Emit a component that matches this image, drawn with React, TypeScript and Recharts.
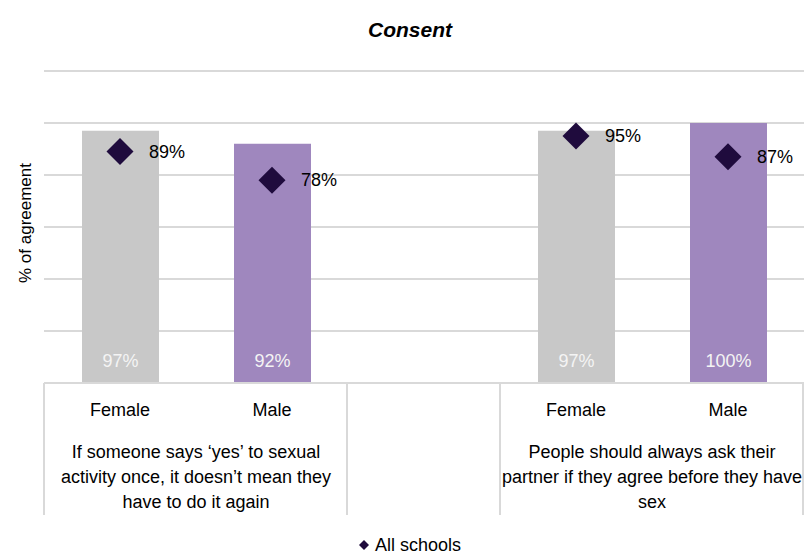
import React from "react";
import { Bar, Cell, ComposedChart, CartesianGrid, LabelList, Scatter, XAxis, YAxis } from "recharts";

const categories = ["f1", "m1", "gap", "f2", "m2"];
const sexLabels = ["Female", "Male", "", "Female", "Male"];
const groupShare = [97, 92, null, 97, 100];
const allSchoolsShare = [89, 78, null, 95, 87];
const barColors = ["#c8c8c8", "#9f87be", "transparent", "#c8c8c8", "#9f87be"];
const statementLines = [
  ["If someone says ‘yes’ to sexual", "activity once, it doesn’t mean they", "have to do it again"],
  ["People should always ask their", "partner if they agree before they have", "sex"],
];
const statementStart = [0, 3];
const yTicks = [0, 20, 40, 60, 80, 100, 120];

const data = categories.map((key, i) => ({
  key,
  sex: sexLabels[i],
  share: groupShare[i],
  allSchools: allSchoolsShare[i],
}));

const FONT = '"Liberation Sans", Arial, sans-serif';
const GRID = "#d9d9d9";
const DIAMOND = "#1f0b3d";

function CategoryTick(props: any) {
  const { x, y, payload, index } = props;
  const half = payload?.offset || 76;
  const group = statementStart.indexOf(index);
  return (
    <g fontFamily={FONT} fontSize={18} fill="#000">
      <text x={x} y={y + 33} textAnchor="middle">
        {sexLabels[index]}
      </text>
      {group >= 0 &&
        statementLines[group].map((line, k) => (
          <text key={k} x={x + half} y={y + 75 + k * 25} textAnchor="middle">
            {line}
          </text>
        ))}
      {(index === 0 || index === 3) && (
        <line x1={x - half} x2={x - half} y1={y} y2={y + 132} stroke={GRID} strokeWidth={2} />
      )}
      {(index === 1 || index === 4) && (
        <line x1={x + half - 1} x2={x + half - 1} y1={y} y2={y + 132} stroke={GRID} strokeWidth={2} />
      )}
    </g>
  );
}

function BarBaseLabel(props: any) {
  const { x, y, width, height, value } = props;
  if (value == null) return null;
  return (
    <text x={x + width / 2} y={y + height - 16} textAnchor="middle" fill="#f4f4f4" fontSize={18} fontFamily={FONT}>
      {value}%
    </text>
  );
}

function DiamondPoint(props: any) {
  const { cx, cy, payload } = props;
  if (payload?.allSchools == null) return null;
  const h = 13.5;
  return (
    <g>
      <polygon points={`${cx},${cy - h} ${cx + h},${cy} ${cx},${cy + h} ${cx - h},${cy}`} fill={DIAMOND} />
      <text x={cx + 29} y={cy + 6} fontSize={18} fontFamily={FONT} fill="#000">
        {payload.allSchools}%
      </text>
    </g>
  );
}

export default function App() {
  return (
    <div style={{ position: "absolute", left: 0, top: 0, width: 804, height: 559, fontFamily: FONT, background: "#fff" }}>
      <div
        style={{
          position: "absolute",
          left: 0,
          top: 17,
          width: 820,
          textAlign: "center",
          fontSize: 21,
          lineHeight: "26px",
          fontWeight: "bold",
          fontStyle: "italic",
        }}
      >
        Consent
      </div>
      <div
        style={{
          position: "absolute",
          left: 26,
          top: 223,
          transform: "translate(-50%, -50%) rotate(-90deg)",
          whiteSpace: "nowrap",
          fontSize: 17,
        }}
      >
        % of agreement
      </div>
      <ComposedChart width={804} height={559} data={data} margin={{ top: 71, right: 0, bottom: 44, left: 0 }}>
        <CartesianGrid vertical={false} stroke={GRID} strokeWidth={2} />
        <XAxis
          dataKey="key"
          height={132}
          axisLine={{ stroke: GRID, strokeWidth: 2 }}
          tickLine={false}
          tickSize={0}
          tickMargin={0}
          interval={0}
          tick={<CategoryTick />}
        />
        <YAxis
          width={44}
          domain={[0, 120]}
          ticks={yTicks}
          interval={0}
          tickFormatter={() => ""}
          axisLine={false}
          tickLine={false}
        />
        <Bar dataKey="share" barSize={77} isAnimationActive={false}>
          {data.map((d, i) => (
            <Cell key={d.key} fill={barColors[i]} />
          ))}
          <LabelList dataKey="share" content={<BarBaseLabel />} />
        </Bar>
        <Scatter dataKey="allSchools" fill={DIAMOND} shape={<DiamondPoint />} isAnimationActive={false} />
      </ComposedChart>
      <div
        style={{
          position: "absolute",
          left: 358,
          top: 534,
          display: "flex",
          alignItems: "center",
          fontSize: 18,
          lineHeight: "22px",
        }}
      >
        <svg width={12} height={12} style={{ marginRight: 5 }}>
          <polygon points="6,1 11,6 6,11 1,6" fill={DIAMOND} />
        </svg>
        All schools
      </div>
    </div>
  );
}
